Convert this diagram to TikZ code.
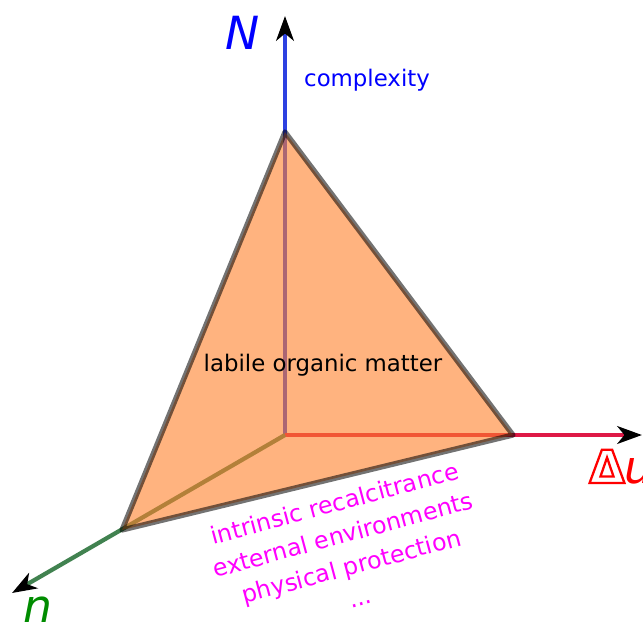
\documentclass[tikz,border=0pt]{standalone}
\usepackage{fontspec}
\setmainfont{DejaVu Sans}
\usepackage{xcolor}
\definecolor{lomblue}{RGB}{45,65,225}
\definecolor{lomred}{RGB}{222,25,70}
\definecolor{lomgreen}{RGB}{65,130,80}
\definecolor{lomorange}{RGB}{255,128,42}
\definecolor{lommagenta}{RGB}{255,0,255}
\usetikzlibrary{arrows.meta}

\begin{document}
\begin{tikzpicture}[x=0.02cm,y=-0.02cm,>={Stealth[black,length=14pt,width=10pt,inset=4pt]},
  axis/.style={->,line width=2.4pt},
  biglbl/.style={font=\fontsize{26}{31}\selectfont},
  smalllbl/.style={font=\fontsize{13}{16}\selectfont}]
  \useasboundingbox (0,0) rectangle (643,627);
  \coordinate (o) at (285,435);
  \coordinate (ntip) at (285,16);
  \coordinate (utip) at (642,435);
  \coordinate (smalln) at (12,593);
  \coordinate (apex) at (285,132);
  \coordinate (rv) at (513,435);
  \coordinate (lv) at (122,530);
  \draw[axis,lomblue] (o)--(ntip);
  \draw[axis,lomred] (o)--(utip);
  \draw[axis,lomgreen] (o)--(smalln);
  \filldraw[fill=lomorange,fill opacity=0.6,draw=black,draw opacity=0.55,line width=3pt,line join=round] (apex)--(rv)--(lv)--cycle;
  \node[biglbl,blue,anchor=base] (labN) at (243,49) {\itshape N};
  \node[smalllbl,blue] (labcx) at (367,80) {complexity};
  \node[smalllbl] (labmat) at (323,365) {labile organic matter};
  \node[smalllbl,lommagenta,align=center,rotate=15,font=\fontsize{13.5}{18.5}\selectfont] (labfac) at (347,550) {intrinsic recalcitrance\\external environments\\physical protection\\...};
  \node[biglbl,green!55!black,anchor=base] (labn) at (38,622) {\itshape n};
  \node[biglbl,anchor=base west,inner sep=0pt] (labdu) at (589,483) {{\color{white}\bfseries\special{pdf:code 2 Tr 1.3 w 1 0 0 RG}Δ\special{pdf:code 0 Tr 0.4 w}}\textcolor{red}{\itshape u}};
\end{tikzpicture}
\end{document}
